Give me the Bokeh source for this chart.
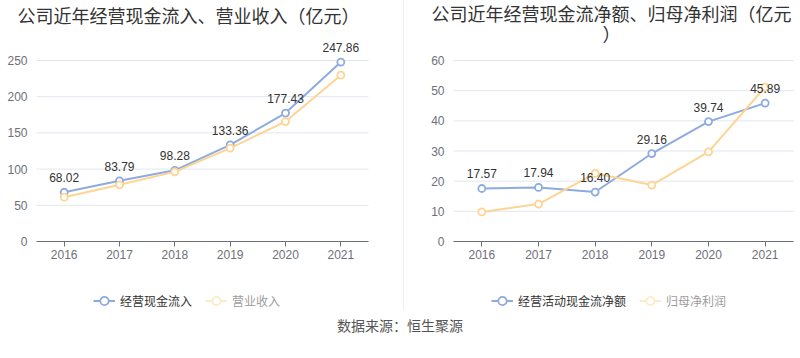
from bokeh.plotting import figure
from bokeh.models import (Range1d, FixedTicker, Label, LabelSet, Legend,
                          LegendItem, ColumnDataSource, Div)
from bokeh.layouts import row, column
from bokeh.embed import file_html
from bokeh.resources import INLINE
from bokeh.core.properties import value

# ---------------- data ----------------
years = [2016, 2017, 2018, 2019, 2020, 2021]
cash_inflow = [68.02, 83.79, 98.28, 133.36, 177.43, 247.86]
revenue = [61.2, 78.3, 96.2, 128.9, 165.7, 229.7]
net_cash_flow = [17.57, 17.94, 16.40, 29.16, 39.74, 45.89]
net_profit = [9.8, 12.4, 22.6, 18.7, 29.7, 51.2]
left_ticks = [0, 50, 100, 150, 200, 250]
right_ticks = [0, 10, 20, 30, 40, 50, 60]

left_title = "公司近年经营现金流入、营业收入（亿元）"
right_title_lines = ["公司近年经营现金流净额、归母净利润（亿元", "）"]
left_names = ["经营现金流入", "营业收入"]
right_names = ["经营活动现金流净额", "归母净利润"]
source_text = "数据来源：恒生聚源"

BLUE = "#8eabe0"
ORANGE = "#fdd491"
AXIS = "#6E7079"
GRID = "#E0E6F1"
CJK = "Noto Sans CJK SC"
NUM = "Liberation Sans"

H = 312          # figure height
AXIS_Y = 241     # pixel row of the value 0 (from top)
TOP_Y = 60       # pixel row of the top tick


def make_chart(width, plot_l, plot_r, ticks, s1, s2, names, titles, legend_x):
    ymax = ticks[-1]
    k = (AXIS_Y - TOP_Y) / ymax                 # px per unit
    band = (plot_r - plot_l) / len(years)       # px per category
    first, last = years[0] - 0.5, years[-1] + 0.5
    x_range = Range1d(first - plot_l / band, last + (width - plot_r) / band)
    y_range = Range1d(-(H - AXIS_Y) / k, ymax + TOP_Y / k)

    src = ColumnDataSource(dict(x=years, a=s1, b=s2,
                                lab=["%.2f" % v for v in s1]))
    p = figure(width=width, height=H, x_range=x_range, y_range=y_range,
               output_backend="svg", toolbar_location=None,
               min_border_left=0, min_border_right=0,
               min_border_top=0, min_border_bottom=0)
    p.outline_line_color = None
    p.background_fill_color = "white"
    p.border_fill_color = "white"
    p.xgrid.visible = False
    p.ygrid.visible = False

    # horizontal grid lines, limited to the category span
    p.segment(x0=[first] * len(ticks), x1=[last] * len(ticks), y0=ticks, y1=ticks,
              line_color=GRID, line_width=1)

    p.yaxis.fixed_location = first
    p.yaxis.ticker = FixedTicker(ticks=ticks)
    p.yaxis.axis_line_color = None
    p.yaxis.major_tick_line_color = None
    p.yaxis.minor_tick_line_color = None
    p.yaxis.major_tick_out = 0
    p.yaxis.minor_tick_out = 0
    p.yaxis.major_label_standoff = 9

    p.xaxis.fixed_location = 0
    p.xaxis.bounds = (first, last)
    p.xaxis.ticker = FixedTicker(ticks=years)
    p.xaxis.axis_line_color = AXIS
    p.xaxis.major_tick_line_color = AXIS
    p.xaxis.minor_tick_line_color = None
    p.xaxis.major_tick_out = 5
    p.xaxis.major_tick_in = 0
    p.xaxis.minor_tick_out = 0
    p.xaxis.major_label_standoff = 3
    for ax in (p.xaxis, p.yaxis):
        ax.major_label_text_color = AXIS
        ax.major_label_text_font = NUM
        ax.major_label_text_font_size = "12px"

    l1 = p.line("x", "a", source=src, line_color=BLUE, line_width=2)
    m1 = p.scatter("x", "a", source=src, size=7, line_color=BLUE,
                   fill_color="white", line_width=1.8)
    l2 = p.line("x", "b", source=src, line_color=ORANGE, line_width=2)
    m2 = p.scatter("x", "b", source=src, size=7, line_color=ORANGE,
                   fill_color="white", line_width=1.8)
    # legend-only copies of the second series (shown as inactive)
    d2 = p.line("x", "b", source=src, line_color=ORANGE, line_width=2, visible=False)
    dm2 = p.scatter("x", "b", source=src, size=7, line_color=ORANGE,
                    fill_color="white", line_width=1.8, visible=False)

    labels = LabelSet(x="x", y="a", text="lab", source=src, text_align="center",
                      text_baseline="alphabetic", y_offset=10,
                      text_font=value(NUM), text_font_size=value("12px"),
                      text_color=value("#333333"))
    p.add_layout(labels)

    legend = Legend(items=[LegendItem(label=names[0], renderers=[l1, m1]),
                           LegendItem(label=names[1], renderers=[d2, dm2])],
                    location=(legend_x, 1.5), orientation="horizontal",
                    click_policy="hide", inactive_fill_color="white",
                    inactive_fill_alpha=0.5,
                    glyph_width=22, glyph_height=21, label_height=21,
                    label_standoff=5, spacing=13, padding=0, margin=0,
                    border_line_color=None, background_fill_alpha=0,
                    label_text_font=CJK, label_text_font_size="12px",
                    label_text_color="#333333")
    p.add_layout(legend)

    for (txt, x, y_from_top, align) in titles:
        p.add_layout(Label(x=x, y=H - y_from_top, x_units="screen", y_units="screen",
                           text=txt, text_align=align, text_baseline="middle",
                           text_font=CJK, text_font_size="18px",
                           text_color="#333333"))
    return p


f1 = make_chart(403, 36, 368, left_ticks, cash_inflow, revenue, left_names,
                [(left_title, 17, 14.7, "left")], 93)
f2 = make_chart(396, 49, 389, right_ticks, net_cash_flow, net_profit, right_names,
                [(right_title_lines[0], 207, 12, "center"),
                 (right_title_lines[1], 207, 32.5, "center")], 87)

divider = Div(width=1, height=310, margin=0, styles={"background-color": "#eeeeee"})
src_div = Div(text=source_text, width=800, height=26, margin=0,
              styles={"text-align": "center", "font-family": CJK, "font-size": "14px",
                      "color": "#555555", "line-height": "26px", "width": "800px"})

layout = column(row(f1, divider, f2, spacing=0), src_div, spacing=0)

with open("out.html", "w") as fh:
    fh.write(file_html(layout, INLINE))
